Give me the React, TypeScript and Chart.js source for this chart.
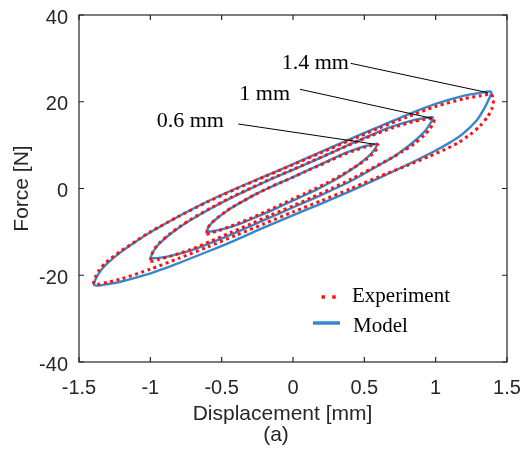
import React, { useEffect, useRef } from 'react';
import { Chart, registerables } from 'chart.js';

Chart.register(...registerables);

// ---------- axes ----------
const xTicks = [-1.5, -1, -0.5, 0, 0.5, 1, 1.5];
const xTickLabels = ['-1.5', '-1', '-0.5', '0', '0.5', '1', '1.5'];
const yTicks = [-40, -20, 0, 20, 40];
const yTickLabels = ['-40', '-20', '0', '20', '40'];
const xTitle = 'Displacement [mm]';
const yTitle = 'Force [N]';
const subTitle = '(a)';

// ---------- model loops [x (mm), F (N)] ----------
const model14Upper = [[-1.40, -22.2], [-1.38, -20.6], [-1.35, -19.0], [-1.30, -17.2], [-1.20, -14.5], [-1.10, -12.2], [-1.00, -10.1], [-0.80, -6.4], [-0.60, -3.0], [-0.40, 0.0], [-0.20, 2.8], [0.00, 5.6], [0.20, 8.5], [0.40, 11.4], [0.60, 14.2], [0.80, 17.0], [1.00, 19.5], [1.20, 21.4], [1.30, 22.0], [1.39, 22.3]];
const model14Lower = [[1.39, 22.3], [1.37, 20.4], [1.34, 18.4], [1.29, 15.8], [1.19, 12.6], [1.09, 10.4], [0.99, 8.6], [0.79, 5.3], [0.59, 2.2], [0.39, -0.8], [0.19, -3.6], [-0.01, -6.3], [-0.21, -9.1], [-0.41, -12.0], [-0.61, -14.7], [-0.81, -17.3], [-1.01, -19.7], [-1.21, -21.5], [-1.31, -22.1], [-1.37, -22.4], [-1.40, -22.2]];

const model10Upper = [[-1.00, -16.1], [-0.985, -14.9], [-0.965, -13.8], [-0.93, -12.5], [-0.86, -10.5], [-0.79, -8.8], [-0.72, -7.3], [-0.57, -4.5], [-0.43, -2.1], [-0.29, 0.1], [-0.15, 2.2], [-0.01, 4.2], [0.14, 6.3], [0.28, 8.4], [0.42, 10.5], [0.56, 12.5], [0.70, 14.3], [0.845, 15.75], [0.92, 16.2], [0.98, 16.4]];
const model10Lower = [[0.98, 16.4], [0.966, 15.2], [0.944, 14.1], [0.91, 12.7], [0.84, 10.6], [0.77, 8.8], [0.70, 7.2], [0.55, 4.4], [0.41, 1.8], [0.27, -0.4], [0.13, -2.5], [-0.01, -4.5], [-0.155, -6.6], [-0.30, -8.7], [-0.44, -10.7], [-0.58, -12.6], [-0.72, -14.3], [-0.865, -15.6], [-0.94, -16.0], [-1.00, -16.1]];

const model06Upper = [[-0.605, -9.95], [-0.597, -9.2], [-0.583, -8.5], [-0.562, -7.7], [-0.518, -6.5], [-0.475, -5.45], [-0.433, -4.5], [-0.346, -2.85], [-0.26, -1.3], [-0.174, 0.05], [-0.087, 1.35], [0.0, 2.6], [0.085, 3.9], [0.17, 5.2], [0.255, 6.5], [0.34, 7.8], [0.425, 8.9], [0.51, 9.8], [0.555, 10.1], [0.59, 10.3]];
const model06Lower = [[0.59, 10.3], [0.582, 9.55], [0.568, 8.8], [0.547, 8.0], [0.504, 6.7], [0.462, 5.6], [0.42, 4.6], [0.335, 2.8], [0.25, 1.2], [0.165, -0.25], [0.08, -1.55], [-0.005, -2.85], [-0.09, -4.15], [-0.177, -5.45], [-0.264, -6.65], [-0.351, -7.85], [-0.436, -8.85], [-0.523, -9.6], [-0.566, -9.85], [-0.605, -9.95]];

// ---------- experiment loops ----------
const exp14Upper = [[-1.40, -22.0], [-1.385, -20.4], [-1.36, -18.9], [-1.31, -17.0], [-1.21, -14.5], [-1.10, -12.1], [-1.00, -10.0], [-0.80, -6.4], [-0.60, -3.1], [-0.40, -0.1], [-0.20, 2.7], [0.00, 5.5], [0.20, 8.3], [0.40, 11.1], [0.60, 13.9], [0.80, 16.5], [1.00, 18.9], [1.20, 20.7], [1.32, 21.4], [1.39, 21.7]];
const exp14Lower = [[1.39, 21.7], [1.405, 20.3], [1.395, 18.5], [1.365, 16.6], [1.31, 14.4], [1.24, 12.4], [1.16, 10.6], [1.06, 8.9], [0.96, 7.5], [0.80, 5.3], [0.60, 2.7], [0.40, -0.1], [0.20, -2.8], [0.00, -5.4], [-0.20, -8.1], [-0.40, -10.8], [-0.60, -13.5], [-0.80, -16.1], [-1.00, -18.6], [-1.20, -20.8], [-1.30, -21.6], [-1.37, -22.1], [-1.40, -22.0]];

const exp10Upper = [[-1.00, -16.6], [-0.99, -15.2], [-0.97, -13.9], [-0.935, -12.5], [-0.865, -10.5], [-0.79, -8.7], [-0.72, -7.2], [-0.57, -4.4], [-0.43, -2.0], [-0.29, 0.2], [-0.15, 2.3], [0.0, 4.4], [0.14, 6.4], [0.28, 8.4], [0.42, 10.4], [0.56, 12.3], [0.70, 14.0], [0.84, 15.4], [0.92, 15.9], [0.99, 16.1]];
const exp10Lower = [[0.99, 16.1], [0.98, 14.9], [0.955, 13.6], [0.92, 12.3], [0.85, 10.3], [0.77, 8.6], [0.70, 7.2], [0.55, 4.6], [0.41, 2.2], [0.27, 0.0], [0.13, -2.1], [0.0, -4.0], [-0.155, -6.1], [-0.30, -8.2], [-0.44, -10.2], [-0.58, -12.2], [-0.72, -14.1], [-0.86, -15.6], [-0.94, -16.3], [-0.99, -16.8], [-1.00, -16.6]];

const exp06Upper = [[-0.605, -10.4], [-0.60, -9.4], [-0.588, -8.6], [-0.566, -7.8], [-0.52, -6.5], [-0.475, -5.4], [-0.43, -4.4], [-0.345, -2.8], [-0.26, -1.3], [-0.175, 0.1], [-0.085, 1.4], [0.0, 2.6], [0.085, 3.9], [0.17, 5.1], [0.255, 6.4], [0.34, 7.6], [0.425, 8.7], [0.51, 9.6], [0.555, 9.9], [0.595, 10.1]];
const exp06Lower = [[0.595, 10.1], [0.59, 9.4], [0.575, 8.6], [0.552, 7.8], [0.508, 6.6], [0.465, 5.6], [0.42, 4.7], [0.335, 3.0], [0.25, 1.5], [0.165, 0.1], [0.08, -1.2], [0.0, -2.4], [-0.09, -3.8], [-0.177, -5.1], [-0.264, -6.4], [-0.351, -7.6], [-0.436, -8.7], [-0.52, -9.7], [-0.57, -10.2], [-0.60, -10.5], [-0.605, -10.4]];

// ---------- annotations (data coordinates) ----------
const annotationLabels = ['0.6 mm', '1 mm', '1.4 mm'];
const annotationTextAt = [[-0.955, 14.25], [-0.376, 20.4], [-0.079, 27.55]];
const annotationLineFrom = [[-0.383, 14.87], [0.049, 22.87], [0.404, 28.86]];
const annotationLineTo = [[0.575, 10.2], [0.972, 16.2], [1.365, 22.1]];

const legendLabels = ['Experiment', 'Model'];

// ---------- styles ----------
const SANS = "'Liberation Sans', Arial, sans-serif";
const SERIF = "'Liberation Serif', 'Times New Roman', serif";
const AXIS_COLOR = '#262626';
const MODEL_COLOR = '#3388cc';
const EXP_COLOR = '#ff1010';

function toPoints(...branches: number[][][]) {
  const out: { x: number; y: number }[] = [];
  for (const b of branches) {
    for (const [x, y] of b) {
      const last = out[out.length - 1];
      if (last && last.x === x && last.y === y) continue;
      out.push({ x, y });
    }
  }
  return out;
}

const expStyle = {
  showLine: true,
  borderColor: EXP_COLOR,
  borderWidth: 3,
  borderDash: [3, 3.5],
  pointRadius: 0,
  tension: 0.25,
  fill: false,
};
const modelStyle = {
  showLine: true,
  borderColor: MODEL_COLOR,
  borderWidth: 2.4,
  pointRadius: 0,
  tension: 0.25,
  fill: false,
};

const zeroPadding = (s: any) => {
  s.paddingLeft = 0;
  s.paddingRight = 0;
  s.paddingTop = 0;
  s.paddingBottom = 0;
};

const overlayPlugin = {
  id: 'overlay',
  afterDatasetsDraw(chart: any) {
    const { ctx, chartArea: a, scales } = chart;
    const xs = scales.x;
    const ys = scales.y;
    ctx.save();

    // box
    ctx.strokeStyle = AXIS_COLOR;
    ctx.lineWidth = 1.2;
    ctx.setLineDash([]);
    ctx.strokeRect(a.left, a.top, a.right - a.left, a.bottom - a.top);

    // inward ticks on all sides
    const tl = 5;
    ctx.beginPath();
    for (const v of xTicks) {
      const px = xs.getPixelForValue(v);
      ctx.moveTo(px, a.bottom);
      ctx.lineTo(px, a.bottom - tl);
      ctx.moveTo(px, a.top);
      ctx.lineTo(px, a.top + tl);
    }
    for (const v of yTicks) {
      const py = ys.getPixelForValue(v);
      ctx.moveTo(a.left, py);
      ctx.lineTo(a.left + tl, py);
      ctx.moveTo(a.right, py);
      ctx.lineTo(a.right - tl, py);
    }
    ctx.stroke();

    // annotations
    ctx.strokeStyle = '#000';
    ctx.lineWidth = 1;
    ctx.fillStyle = '#000';
    ctx.font = `22px ${SERIF}`;
    ctx.textAlign = 'left';
    ctx.textBaseline = 'alphabetic';
    annotationLabels.forEach((t, i) => {
      const [tx, ty] = annotationTextAt[i];
      ctx.fillText(t, xs.getPixelForValue(tx), ys.getPixelForValue(ty));
      const [x0, y0] = annotationLineFrom[i];
      const [x1, y1] = annotationLineTo[i];
      ctx.beginPath();
      ctx.moveTo(xs.getPixelForValue(x0), ys.getPixelForValue(y0));
      ctx.lineTo(xs.getPixelForValue(x1), ys.getPixelForValue(y1));
      ctx.stroke();
    });

    // legend
    const lx = a.left + 234;
    const row1 = a.top + 282;
    const row2 = a.top + 308;
    ctx.strokeStyle = EXP_COLOR;
    ctx.lineWidth = 3.5;
    ctx.setLineDash([3.5, 7.2]);
    ctx.beginPath();
    ctx.moveTo(lx + 8.5, row1);
    ctx.lineTo(lx + 24, row1);
    ctx.stroke();
    ctx.setLineDash([]);
    ctx.strokeStyle = MODEL_COLOR;
    ctx.lineWidth = 3.5;
    ctx.beginPath();
    ctx.moveTo(lx, row2);
    ctx.lineTo(lx + 27, row2);
    ctx.stroke();
    ctx.fillStyle = '#000';
    ctx.font = `21px ${SERIF}`;
    ctx.fillText(legendLabels[0], lx + 39, row1 + 5);
    ctx.fillText(legendLabels[1], lx + 40, row2 + 8.5);

    // axis titles
    ctx.fillStyle = AXIS_COLOR;
    ctx.font = `21px ${SANS}`;
    ctx.textAlign = 'center';
    ctx.fillText(xTitle, a.left + 203.5, a.bottom + 58);
    ctx.fillText(subTitle, a.left + 197, a.bottom + 79);
    ctx.save();
    ctx.translate(22, (a.top + a.bottom) / 2);
    ctx.rotate(-Math.PI / 2);
    ctx.textBaseline = 'middle';
    ctx.fillText(yTitle, 0, 0);
    ctx.restore();

    ctx.restore();
  },
};

export default function App() {
  const ref = useRef<HTMLCanvasElement>(null);
  useEffect(() => {
    document.body.style.margin = '0';
    const datasets: any[] = [
      { label: 'Experiment 0.6', data: toPoints(exp06Upper, exp06Lower), ...expStyle },
      { label: 'Experiment 1', data: toPoints(exp10Upper, exp10Lower), ...expStyle },
      { label: 'Experiment 1.4', data: toPoints(exp14Upper, exp14Lower), ...expStyle },
      { label: 'Model 0.6', data: toPoints(model06Upper, model06Lower), ...modelStyle },
      { label: 'Model 1', data: toPoints(model10Upper, model10Lower), ...modelStyle },
      { label: 'Model 1.4', data: toPoints(model14Upper, model14Lower), ...modelStyle },
    ];
    const chart = new Chart(ref.current as HTMLCanvasElement, {
      type: 'scatter',
      data: { datasets },
      options: {
        animation: false,
        responsive: true,
        maintainAspectRatio: false,
        layout: { padding: { left: 0, top: 15, right: 15, bottom: 0 } },
        plugins: { legend: { display: false }, tooltip: { enabled: false } },
        scales: {
          x: {
            type: 'linear',
            min: -1.5,
            max: 1.5,
            afterBuildTicks: (s: any) => {
              s.ticks = xTicks.map((v) => ({ value: v }));
            },
            afterFit: (s: any) => {
              s.height = 91;
              zeroPadding(s);
            },
            grid: { display: false, drawTicks: false },
            border: { display: false },
            ticks: {
              autoSkip: false,
              maxRotation: 0,
              padding: 14,
              color: AXIS_COLOR,
              font: { family: SANS, size: 20 },
              callback: (value: any) => {
                const i = xTicks.findIndex((t) => Math.abs(t - Number(value)) < 1e-9);
                return i >= 0 ? xTickLabels[i] : '';
              },
            },
          },
          y: {
            type: 'linear',
            min: -40,
            max: 40,
            afterBuildTicks: (s: any) => {
              s.ticks = yTicks.map((v) => ({ value: v }));
            },
            afterFit: (s: any) => {
              s.width = 79;
              zeroPadding(s);
            },
            grid: { display: false, drawTicks: false },
            border: { display: false },
            ticks: {
              autoSkip: false,
              padding: 11,
              labelOffset: 3,
              color: AXIS_COLOR,
              font: { family: SANS, size: 20 },
              callback: (value: any) => {
                const i = yTicks.findIndex((t) => Math.abs(t - Number(value)) < 1e-9);
                return i >= 0 ? yTickLabels[i] : '';
              },
            },
          },
        },
      },
      plugins: [overlayPlugin],
    });
    return () => chart.destroy();
  }, []);
  return (
    <div style={{ position: 'relative', width: 522, height: 453 }}>
      <canvas ref={ref} />
    </div>
  );
}
